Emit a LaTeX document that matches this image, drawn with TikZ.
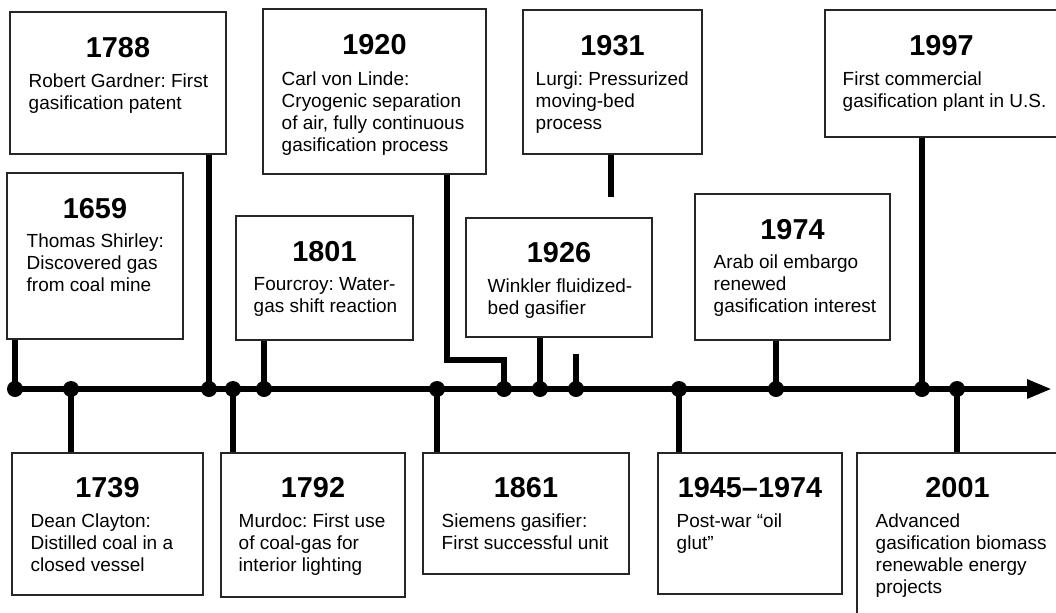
\documentclass[tikz,border=0pt]{standalone}
\usepackage{fontspec}
\setmainfont{Liberation Sans}
\frenchspacing
\usetikzlibrary{arrows.meta,calc,fit}
\begin{document}
\begin{tikzpicture}[
        x=0.025cm, y=-0.025cm,
        box/.style={draw=black!85, line width=0.8pt, fill=white, inner sep=0pt},
        year/.style={anchor=base, inner sep=0pt, font=\fontsize{20.5}{24}\selectfont\bfseries},
        desc/.style={anchor=north west, align=left, inner sep=0pt, font=\fontsize{13.5}{15.65}\selectfont},
        dot/.style={circle, fill, inner sep=0pt, minimum size=0.4cm},
        conn/.style={line width=4pt, line join=miter},
        axis/.style={line width=4.6pt, -{Triangle[length=6.2mm,width=4.4mm]}},
    ]
    \clip (0,0) rectangle (1056,612);

    \node[box, fit={(7,173) (183,339)}] (b1659) {};
    \node[box, fit={(12,453) (203,595)}] (b1739) {};
    \node[box, fit={(10,12) (226,154)}] (b1788) {};
    \node[box, fit={(221,453) (405,597)}] (b1792) {};
    \node[box, fit={(236,216) (413,340)}] (b1801) {};
    \node[box, fit={(423,453) (629,574)}] (b1861) {};
    \node[box, fit={(263,9) (486,174)}] (b1920) {};
    \node[box, fit={(466,218) (652,337)}] (b1926) {};
    \node[box, fit={(523,10) (702,154)}] (b1931) {};
    \node[box, fit={(658,453) (842,594)}] (b1945) {};
    \node[box, fit={(695,194) (890,340)}] (b1974) {};
    \node[box, fit={(825,10) (1058,137)}] (b1997) {};
    \node[box, fit={(857,453) (1058,620)}] (b2001) {};

    \node[year] (y1659) at ($(b1659.north)+(0,46)$) {1659};
    \node[year] (y1739) at ($(b1739.north)+(0,45)$) {1739};
    \node[year] (y1788) at ($(b1788.north)+(0,46)$) {1788};
    \node[year] (y1792) at ($(b1792.north)+(0,45)$) {1792};
    \node[year] (y1801) at ($(b1801.north)+(0,46)$) {1801};
    \node[year] (y1861) at ($(b1861.north)+(0,45)$) {1861};
    \node[year] (y1920) at ($(b1920.north)+(0,46)$) {1920};
    \node[year] (y1926) at ($(b1926.north)+(0,45)$) {1926};
    \node[year] (y1931) at ($(b1931.north)+(0,46)$) {1931};
    \node[year] (y1945) at ($(b1945.north)+(0,45)$) {1945--1974};
    \node[year] (y1974) at ($(b1974.north)+(0,46)$) {1974};
    \node[year] (y1997) at ($(b1997.north)+(0,46)$) {1997};
    \node[year] (y2001) at ($(b2001.north)+(0,45)$) {2001};

    \node[desc] (t1659) at ($(b1659.north west)+(20,61)$) {Thomas Shirley:\\Discovered gas\\from coal mine};
    \node[desc] (t1739) at ($(b1739.north west)+(19,61)$) {Dean Clayton:\\Distilled coal in a\\closed vessel};
    \node[desc] (t1788) at ($(b1788.north west)+(19,62)$) {Robert Gardner: First\\gasification patent};
    \node[desc] (t1792) at ($(b1792.north west)+(18,61)$) {Murdoc: First use\\of coal-gas for\\interior lighting};
    \node[desc] (t1801) at ($(b1801.north west)+(18,62)$) {Fourcroy: Water-\\gas shift reaction};
    \node[desc] (t1861) at ($(b1861.north west)+(19,61)$) {Siemens gasifier:\\First successful unit};
    \node[desc] (t1920) at ($(b1920.north west)+(19,63)$) {Carl von Linde:\\Cryogenic separation\\of air, fully continuous\\gasification process};
    \node[desc] (t1926) at ($(b1926.north west)+(22,61)$) {Winkler fluidized-\\bed gasifier};
    \node[desc] (t1931) at ($(b1931.north west)+(13,62)$) {Lurgi: Pressurized\\moving-bed\\process};
    \node[desc] (t1945) at ($(b1945.north west)+(19,61)$) {Post-war “oil\\glut”};
    \node[desc] (t1974) at ($(b1974.north west)+(19,61)$) {Arab oil embargo\\renewed\\gasification interest};
    \node[desc] (t1997) at ($(b1997.north west)+(18,62)$) {First commercial\\gasification plant in U.S.};
    \node[desc] (t2001) at ($(b2001.north west)+(19,61)$) {Advanced\\gasification biomass\\renewable energy\\projects};

    \coordinate (tend) at (1052,389);
    \node[dot] (d1659) at (15,389) {};
    \node[dot] (d1739) at (71,389) {};
    \node[dot] (d1788) at (209,389) {};
    \node[dot] (d1792) at (233,389) {};
    \node[dot] (d1801) at (264,389) {};
    \node[dot] (d1861) at (437,389) {};
    \node[dot] (d1920) at (504,389) {};
    \node[dot] (d1926) at (540,389) {};
    \node[dot] (d1931) at (576,389) {};
    \node[dot] (d1945) at (679,389) {};
    \node[dot] (d1974) at (776,389) {};
    \node[dot] (d1997) at (922,389) {};
    \node[dot] (d2001) at (957,389) {};
    \draw[axis] (d1659.center) -- (tend);

    \draw[conn] (b1659.south -| d1659) -- (d1659.center);
    \draw[conn] (d1739.center) -- (b1739.north -| d1739);
    \draw[conn] (b1788.south -| d1788) -- (d1788.center);
    \draw[conn] (d1792.center) -- (b1792.north -| d1792);
    \draw[conn] (b1801.south -| d1801) -- (d1801.center);
    \draw[conn] (d1861.center) -- (b1861.north -| d1861);
    \coordinate (k1920) at (447,360);
    \draw[conn] (b1920.south -| k1920) -- (k1920) -| (d1920.center);
    \draw[conn] (b1926.south -| d1926) -- (d1926.center);
    \coordinate (s1931) at (611,197);
    \coordinate (u1931) at (576,354);
    \draw[conn] (b1931.south -| s1931) -- (s1931);
    \draw[conn] (u1931) -- (d1931.center);
    \draw[conn] (d1945.center) -- (b1945.north -| d1945);
    \draw[conn] (b1974.south -| d1974) -- (d1974.center);
    \draw[conn] (b1997.south -| d1997) -- (d1997.center);
    \draw[conn] (d2001.center) -- (b2001.north -| d2001);
\end{tikzpicture}
\end{document}
